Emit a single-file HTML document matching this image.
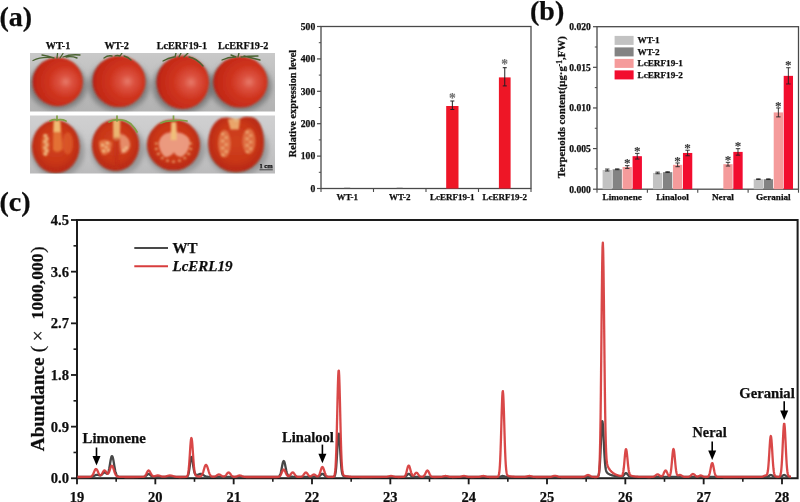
<!DOCTYPE html>
<html><head><meta charset="utf-8"><title>Figure</title>
<style>
html,body{margin:0;padding:0;background:#fff;width:800px;height:502px;overflow:hidden}
svg{display:block}
text{font-family:"Liberation Serif",serif;font-weight:bold;fill:#111;stroke:#111;stroke-width:0.25px}
</style></head><body>
<svg width="800" height="502" viewBox="0 0 800 502">
<defs><filter id="soft" x="0" y="0" width="800" height="502" filterUnits="userSpaceOnUse"><feGaussianBlur stdDeviation="0.35"/></filter></defs>
<rect width="800" height="502" fill="#fff"/>
<g filter="url(#soft)">
<text x="-0.6" y="26.3" font-size="28" text-anchor="start" >(a)</text>
<text x="530" y="20" font-size="28" text-anchor="start" >(b)</text>
<text x="-0.5" y="211.3" font-size="28" text-anchor="start" >(c)</text>
<defs>
<filter id="bl1" x="-20%" y="-20%" width="140%" height="140%"><feGaussianBlur stdDeviation="0.8"/></filter>
<filter id="bl4" x="-20%" y="-20%" width="140%" height="140%"><feGaussianBlur stdDeviation="1.3"/></filter>
<filter id="bl2" x="-30%" y="-30%" width="160%" height="160%"><feGaussianBlur stdDeviation="2.5"/></filter>
<filter id="bl3" x="-20%" y="-20%" width="140%" height="140%"><feGaussianBlur stdDeviation="0.45"/></filter>
<clipPath id="cpU"><rect x="30" y="53" width="245" height="58.5"/></clipPath>
<clipPath id="cpL"><rect x="30" y="115.5" width="245" height="58"/></clipPath>
<linearGradient id="bgU" x1="0" y1="0" x2="0" y2="1">
 <stop offset="0" stop-color="#c9c9c9"/><stop offset="0.5" stop-color="#bdbdbd"/><stop offset="1" stop-color="#b2b2b2"/></linearGradient>
<linearGradient id="bgL" x1="0" y1="0" x2="0" y2="1">
 <stop offset="0" stop-color="#d0d0d1"/><stop offset="0.6" stop-color="#c6c6c7"/><stop offset="1" stop-color="#bababb"/></linearGradient>
<radialGradient id="tom" cx="0.64" cy="0.5" r="0.72" fx="0.66" fy="0.5">
 <stop offset="0" stop-color="#e77a6a"/><stop offset="0.18" stop-color="#dc5240"/><stop offset="0.45" stop-color="#cf341f"/><stop offset="0.8" stop-color="#c22816"/><stop offset="1" stop-color="#9c1c0e"/></radialGradient>
<radialGradient id="cut" cx="0.5" cy="0.45" r="0.55">
 <stop offset="0" stop-color="#d0421e"/><stop offset="0.65" stop-color="#c93618"/><stop offset="0.9" stop-color="#b92a13"/><stop offset="1" stop-color="#98200e"/></radialGradient>
</defs><rect x="30" y="53" width="245" height="58.5" fill="url(#bgU)"/><rect x="30" y="115.5" width="245" height="58" fill="url(#bgL)"/><g clip-path="url(#cpU)"><g filter="url(#bl2)"><ellipse cx="57.7" cy="85.8" rx="29.2" ry="24.4" fill="#5a5a5a" opacity="0.6"/><ellipse cx="119" cy="85.4" rx="30.5" ry="25.7" fill="#5a5a5a" opacity="0.6"/><ellipse cx="182.7" cy="86.3" rx="30.3" ry="26.7" fill="#5a5a5a" opacity="0.6"/><ellipse cx="240.4" cy="86" rx="31.2" ry="25.6" fill="#5a5a5a" opacity="0.6"/></g><g filter="url(#bl1)"><ellipse cx="57.7" cy="81.8" rx="25.2" ry="24.4" fill="url(#tom)"/><ellipse cx="119" cy="81.4" rx="26.5" ry="25.7" fill="url(#tom)"/><ellipse cx="182.7" cy="82.3" rx="26.3" ry="26.7" fill="url(#tom)"/><ellipse cx="240.4" cy="82" rx="27.2" ry="25.6" fill="url(#tom)"/></g><g filter="url(#bl3)"><path d="M33,60.5 Q40,57 50,57.5 M42,55 Q48,56 54,58 M57,58 L57.5,53.5 M60,58 L63,53.5 M63,57 Q70,54 80,55 M66,57 Q72,56 77,58" stroke="#4a6230" stroke-width="1.35" fill="none" stroke-linecap="round"/><path d="M104,58 Q108,55 112,56 M115,56 Q117,55 120,56 L122,53 M124,56 Q128,57 131,60" stroke="#4a6230" stroke-width="1.35" fill="none" stroke-linecap="round"/><path d="M163,61 Q168,58 174,57 M175,57 L176,53 M179,57 L181,53 M184,57 L188,53 M189,57 Q196,58 203,66" stroke="#4a6230" stroke-width="1.35" fill="none" stroke-linecap="round"/><path d="M222,60 Q228,57 235,57 M231,55 L236,57 M238,57 L239,53 M241,57 Q248,56 258,56 M244,56 Q252,58 260,60" stroke="#4a6230" stroke-width="1.35" fill="none" stroke-linecap="round"/></g></g><g clip-path="url(#cpL)"><g filter="url(#bl2)"><ellipse cx="57.8" cy="150.6" rx="26.8" ry="26.6" fill="#7a7a7a" opacity="0.6"/><ellipse cx="117.6" cy="149.2" rx="26.6" ry="25.8" fill="#7a7a7a" opacity="0.6"/><ellipse cx="175.5" cy="149" rx="29.5" ry="25.6" fill="#7a7a7a" opacity="0.6"/><ellipse cx="238" cy="148.6" rx="30.5" ry="27.6" fill="#7a7a7a" opacity="0.6"/></g><g filter="url(#bl1)"><ellipse cx="55.8" cy="146.6" rx="23.8" ry="26.6" fill="url(#cut)"/><ellipse cx="55.8" cy="146.6" rx="22.0" ry="24.8" fill="none" stroke="#c0301a" stroke-width="1.8"/><ellipse cx="115.6" cy="145.2" rx="23.6" ry="25.8" fill="url(#cut)"/><ellipse cx="115.6" cy="145.2" rx="21.8" ry="24.0" fill="none" stroke="#c0301a" stroke-width="1.8"/><ellipse cx="173.5" cy="145" rx="26.5" ry="25.6" fill="url(#cut)"/><ellipse cx="173.5" cy="145" rx="24.7" ry="23.8" fill="none" stroke="#c0301a" stroke-width="1.8"/><path d="M236,122.5 C232,117 224,116 218,120 C210,126 207.5,138 208.6,148 C210,162 222,172.2 236,172.2 C250,172.2 262,162 263.7,148 C265,135 262,124 256,119 C250,115 240,116 236,122.5 Z" fill="url(#cut)"/><path d="M236,122.5 C232,117 224,116 218,120 C210,126 207.5,138 208.6,148 C210,162 222,172.2 236,172.2 C250,172.2 262,162 263.7,148 C265,135 262,124 256,119 C250,115 240,116 236,122.5 Z" fill="none" stroke="#c0301a" stroke-width="1.8" transform="translate(236,145) scale(0.93) translate(-236,-145)"/></g><g filter="url(#bl4)"><ellipse cx="67.70" cy="143.41" rx="5.24" ry="11.17" fill="#dc5a2c" opacity="0.8"/><ellipse cx="45.57" cy="145.27" rx="4.05" ry="11.17" fill="#e0703a" opacity="0.8"/><path d="M53.42,120.53 L60.56,120.53 L62.46,149.26 Q57.70,154.58 52.94,149.79 Z" fill="#e67a3a" opacity="0.85"/><path d="M53.90,120.53 L60.08,120.53 L60.56,131.97 L53.42,131.97 Z" fill="#f2c47c" opacity="0.9"/><ellipse cx="45.33" cy="135.43" rx="2.1" ry="1.1" fill="#f8d49a" opacity="0.95"/><ellipse cx="46.73" cy="138.53" rx="2.1" ry="1.1" fill="#f8d49a" opacity="0.95"/><ellipse cx="45.33" cy="141.63" rx="2.1" ry="1.1" fill="#f8d49a" opacity="0.95"/><ellipse cx="46.73" cy="144.73" rx="2.1" ry="1.1" fill="#f8d49a" opacity="0.95"/><ellipse cx="45.33" cy="147.83" rx="2.1" ry="1.1" fill="#f8d49a" opacity="0.95"/><ellipse cx="46.73" cy="150.93" rx="2.1" ry="1.1" fill="#f8d49a" opacity="0.95"/><ellipse cx="45.33" cy="154.03" rx="2.1" ry="1.1" fill="#f8d49a" opacity="0.95"/><path d="M113.00,119.92 L120.32,119.92 L119.85,138.75 Q116.78,142.62 113.24,138.75 Z" fill="#eec27a" opacity="0.9"/><path d="M113.71,137.46 L119.38,137.46 L118.43,165.84 L114.18,165.84 Z" fill="#c02818" opacity="0.5"/><path d="M120.32,133.59 Q129.76,136.17 130.23,145.20 Q128.58,154.23 121.50,153.46 Q119.38,145.20 120.32,133.59 Z" fill="#eca07c" opacity="0.8"/><path d="M99.08,141.33 Q106.16,137.46 111.82,142.62 Q111.35,155.52 102.62,155.00 Q98.61,149.07 99.08,141.33 Z" fill="#e8844f" opacity="0.8"/><ellipse cx="102.62" cy="145.20" rx="1.6" ry="1.1" fill="#f8d49a" opacity="0.9"/><ellipse cx="106.16" cy="147.26" rx="1.6" ry="1.1" fill="#f8d49a" opacity="0.9"/><ellipse cx="108.52" cy="150.36" rx="1.6" ry="1.1" fill="#f8d49a" opacity="0.9"/><ellipse cx="103.80" cy="150.88" rx="1.6" ry="1.1" fill="#f8d49a" opacity="0.9"/><ellipse cx="107.34" cy="143.14" rx="1.6" ry="1.1" fill="#f8d49a" opacity="0.9"/><ellipse cx="123.86" cy="150.36" rx="1.6" ry="1.1" fill="#f8d49a" opacity="0.9"/><ellipse cx="126.22" cy="147.78" rx="1.6" ry="1.1" fill="#f8d49a" opacity="0.9"/><path d="M171.38,122.47 L176.15,122.47 L176.68,132.20 Q188.07,133.48 189.93,141.16 Q189.40,152.68 181.45,157.03 Q176.15,156.52 174.03,152.17 Q170.85,156.52 165.55,157.29 Q158.93,152.68 158.66,142.44 Q160.25,133.48 170.85,132.20 Z" fill="#eea48a" opacity="0.9"/><path d="M171.38,121.96 L176.15,121.96 L176.68,139.88 L170.85,139.88 Z" fill="#f2c27a" opacity="0.9"/><ellipse cx="190.72" cy="143.61" rx="1.5" ry="1.1" fill="#f6cc90" opacity="0.75"/><ellipse cx="190.72" cy="148.95" rx="1.5" ry="1.1" fill="#f6cc90" opacity="0.75"/><ellipse cx="188.65" cy="153.96" rx="1.5" ry="1.1" fill="#f6cc90" opacity="0.75"/><ellipse cx="184.74" cy="158.05" rx="1.5" ry="1.1" fill="#f6cc90" opacity="0.75"/><ellipse cx="179.48" cy="160.71" rx="1.5" ry="1.1" fill="#f6cc90" opacity="0.75"/><ellipse cx="173.50" cy="161.64" rx="1.5" ry="1.1" fill="#f6cc90" opacity="0.75"/><ellipse cx="167.52" cy="160.71" rx="1.5" ry="1.1" fill="#f6cc90" opacity="0.75"/><ellipse cx="162.26" cy="158.05" rx="1.5" ry="1.1" fill="#f6cc90" opacity="0.75"/><ellipse cx="158.35" cy="153.96" rx="1.5" ry="1.1" fill="#f6cc90" opacity="0.75"/><ellipse cx="156.28" cy="148.95" rx="1.5" ry="1.1" fill="#f6cc90" opacity="0.75"/><ellipse cx="156.28" cy="143.61" rx="1.5" ry="1.1" fill="#f6cc90" opacity="0.75"/><path d="M227.75,119.21 Q234.62,117.55 240.12,119.21 L238.75,129.42 L230.50,129.42 Z" fill="#f0b878" opacity="0.85"/><ellipse cx="224.45" cy="143.77" rx="6.33" ry="13.80" fill="#e88a58" opacity="0.7"/><ellipse cx="248.93" cy="141.29" rx="6.60" ry="12.70" fill="#e88a58" opacity="0.65"/><ellipse cx="222.75" cy="134.11" rx="1.7" ry="1.1" fill="#f6cc90" opacity="0.75"/><ellipse cx="247.23" cy="132.18" rx="1.7" ry="1.1" fill="#f6cc90" opacity="0.7"/><ellipse cx="226.15" cy="137.61" rx="1.7" ry="1.1" fill="#f6cc90" opacity="0.75"/><ellipse cx="250.63" cy="135.48" rx="1.7" ry="1.1" fill="#f6cc90" opacity="0.7"/><ellipse cx="222.75" cy="141.11" rx="1.7" ry="1.1" fill="#f6cc90" opacity="0.75"/><ellipse cx="247.23" cy="138.78" rx="1.7" ry="1.1" fill="#f6cc90" opacity="0.7"/><ellipse cx="226.15" cy="144.61" rx="1.7" ry="1.1" fill="#f6cc90" opacity="0.75"/><ellipse cx="250.63" cy="142.08" rx="1.7" ry="1.1" fill="#f6cc90" opacity="0.7"/><ellipse cx="222.75" cy="148.11" rx="1.7" ry="1.1" fill="#f6cc90" opacity="0.75"/><ellipse cx="247.23" cy="145.38" rx="1.7" ry="1.1" fill="#f6cc90" opacity="0.7"/><ellipse cx="226.15" cy="151.61" rx="1.7" ry="1.1" fill="#f6cc90" opacity="0.75"/><ellipse cx="250.63" cy="148.68" rx="1.7" ry="1.1" fill="#f6cc90" opacity="0.7"/><ellipse cx="222.75" cy="155.11" rx="1.7" ry="1.1" fill="#f6cc90" opacity="0.75"/><ellipse cx="247.23" cy="151.98" rx="1.7" ry="1.1" fill="#f6cc90" opacity="0.7"/></g><g filter="url(#bl3)"><path d="M57,114 L57,120.5 M50,121 Q54,119 57,120 Q62,119 66,121" stroke="#7fa044" stroke-width="1.7" fill="none" stroke-linecap="round"/><path d="M117,114 L117,121 M109,122 Q113,119.5 117,120 Q125,119 131,124 Q135,128 137,132" stroke="#7fa044" stroke-width="1.7" fill="none" stroke-linecap="round"/><path d="M173.5,115 L173.5,121 M161,123 Q166,120.5 173,121 Q180,119.5 187,121" stroke="#7fa044" stroke-width="1.7" fill="none" stroke-linecap="round"/></g></g><text x="266" y="168.3" font-size="6.5" text-anchor="middle">1 cm</text><line x1="259.5" y1="169.8" x2="272.8" y2="169.8" stroke="#222" stroke-width="0.8"/>
<text x="58.1" y="49.4" font-size="10.2" text-anchor="middle" >WT-1</text>
<text x="116.7" y="49.4" font-size="10.2" text-anchor="middle" >WT-2</text>
<text x="181.9" y="49.4" font-size="10.2" text-anchor="middle" >LcERF19-1</text>
<text x="243.2" y="49.4" font-size="10.2" text-anchor="middle" >LcERF19-2</text>
<rect x="321" y="26.5" width="210" height="162.0" fill="none" stroke="#4a4a4a" stroke-width="1.3"/><line x1="317" y1="188.50" x2="321" y2="188.50" stroke="#4a4a4a" stroke-width="1.2"/><text x="315.2" y="191.80" font-size="9.6" text-anchor="end">0</text><line x1="318.8" y1="172.30" x2="321" y2="172.30" stroke="#4a4a4a" stroke-width="1"/><line x1="317" y1="156.10" x2="321" y2="156.10" stroke="#4a4a4a" stroke-width="1.2"/><text x="315.2" y="159.40" font-size="9.6" text-anchor="end">100</text><line x1="318.8" y1="139.90" x2="321" y2="139.90" stroke="#4a4a4a" stroke-width="1"/><line x1="317" y1="123.70" x2="321" y2="123.70" stroke="#4a4a4a" stroke-width="1.2"/><text x="315.2" y="127.00" font-size="9.6" text-anchor="end">200</text><line x1="318.8" y1="107.50" x2="321" y2="107.50" stroke="#4a4a4a" stroke-width="1"/><line x1="317" y1="91.30" x2="321" y2="91.30" stroke="#4a4a4a" stroke-width="1.2"/><text x="315.2" y="94.60" font-size="9.6" text-anchor="end">300</text><line x1="318.8" y1="75.10" x2="321" y2="75.10" stroke="#4a4a4a" stroke-width="1"/><line x1="317" y1="58.90" x2="321" y2="58.90" stroke="#4a4a4a" stroke-width="1.2"/><text x="315.2" y="62.20" font-size="9.6" text-anchor="end">400</text><line x1="318.8" y1="42.70" x2="321" y2="42.70" stroke="#4a4a4a" stroke-width="1"/><line x1="317" y1="26.50" x2="321" y2="26.50" stroke="#4a4a4a" stroke-width="1.2"/><text x="315.2" y="29.80" font-size="9.6" text-anchor="end">500</text><line x1="321.00" y1="188.5" x2="321.00" y2="192.0" stroke="#4a4a4a" stroke-width="1.1"/><line x1="373.50" y1="188.5" x2="373.50" y2="192.0" stroke="#4a4a4a" stroke-width="1.1"/><line x1="426.00" y1="188.5" x2="426.00" y2="192.0" stroke="#4a4a4a" stroke-width="1.1"/><line x1="478.50" y1="188.5" x2="478.50" y2="192.0" stroke="#4a4a4a" stroke-width="1.1"/><line x1="531.00" y1="188.5" x2="531.00" y2="192.0" stroke="#4a4a4a" stroke-width="1.1"/><text x="347.25" y="199.6" font-size="9" text-anchor="middle">WT-1</text><text x="399.75" y="199.6" font-size="9" text-anchor="middle">WT-2</text><text x="452.25" y="199.6" font-size="9" text-anchor="middle">LcERF19-1</text><text x="504.75" y="199.6" font-size="9" text-anchor="middle">LcERF19-2</text><rect x="446.2" y="106" width="12.300000000000011" height="82.5" fill="#ee1228"/><line x1="452.35" y1="101" x2="452.35" y2="109.5" stroke="#222" stroke-width="1"/><line x1="450.35" y1="101" x2="454.35" y2="101" stroke="#222" stroke-width="1"/><line x1="450.35" y1="109.5" x2="454.35" y2="109.5" stroke="#222" stroke-width="1"/><text x="452.35" y="102.77" font-size="13.52" font-weight="normal" text-anchor="middle" style="fill:#707070;stroke:#707070;stroke-width:0.1px">*</text><rect x="498.9" y="77.4" width="11.700000000000045" height="111.1" fill="#ee1228"/><line x1="504.75" y1="67.7" x2="504.75" y2="85.9" stroke="#222" stroke-width="1"/><line x1="502.75" y1="67.7" x2="506.75" y2="67.7" stroke="#222" stroke-width="1"/><line x1="502.75" y1="85.9" x2="506.75" y2="85.9" stroke="#222" stroke-width="1"/><text x="504.75" y="69.47" font-size="13.52" font-weight="normal" text-anchor="middle" style="fill:#707070;stroke:#707070;stroke-width:0.1px">*</text><line x1="344.2" y1="188.2" x2="350.2" y2="188.2" stroke="#555" stroke-width="0.8"/><line x1="396.7" y1="188.2" x2="402.7" y2="188.2" stroke="#555" stroke-width="0.8"/><text transform="translate(295.6,103.5) rotate(-90)" font-size="10.3" text-anchor="middle">Relative expression level</text>
<rect x="597" y="26.7" width="201.5" height="162.5" fill="none" stroke="#4a4a4a" stroke-width="1.3"/><line x1="593" y1="189.20" x2="597" y2="189.20" stroke="#4a4a4a" stroke-width="1.2"/><text x="590.8" y="192.50" font-size="9.6" text-anchor="end">0.000</text><line x1="594.8" y1="168.89" x2="597" y2="168.89" stroke="#4a4a4a" stroke-width="1"/><line x1="593" y1="148.57" x2="597" y2="148.57" stroke="#4a4a4a" stroke-width="1.2"/><text x="590.8" y="151.88" font-size="9.6" text-anchor="end">0.005</text><line x1="594.8" y1="128.26" x2="597" y2="128.26" stroke="#4a4a4a" stroke-width="1"/><line x1="593" y1="107.95" x2="597" y2="107.95" stroke="#4a4a4a" stroke-width="1.2"/><text x="590.8" y="111.25" font-size="9.6" text-anchor="end">0.010</text><line x1="594.8" y1="87.64" x2="597" y2="87.64" stroke="#4a4a4a" stroke-width="1"/><line x1="593" y1="67.32" x2="597" y2="67.32" stroke="#4a4a4a" stroke-width="1.2"/><text x="590.8" y="70.62" font-size="9.6" text-anchor="end">0.015</text><line x1="594.8" y1="47.01" x2="597" y2="47.01" stroke="#4a4a4a" stroke-width="1"/><line x1="593" y1="26.70" x2="597" y2="26.70" stroke="#4a4a4a" stroke-width="1.2"/><text x="590.8" y="30.00" font-size="9.6" text-anchor="end">0.020</text><line x1="597.00" y1="189.2" x2="597.00" y2="192.7" stroke="#4a4a4a" stroke-width="1.1"/><line x1="647.38" y1="189.2" x2="647.38" y2="192.7" stroke="#4a4a4a" stroke-width="1.1"/><line x1="697.75" y1="189.2" x2="697.75" y2="192.7" stroke="#4a4a4a" stroke-width="1.1"/><line x1="748.12" y1="189.2" x2="748.12" y2="192.7" stroke="#4a4a4a" stroke-width="1.1"/><line x1="798.50" y1="189.2" x2="798.50" y2="192.7" stroke="#4a4a4a" stroke-width="1.1"/><text x="622.19" y="200" font-size="9.2" text-anchor="middle">Limonene</text><text x="672.56" y="200" font-size="9.2" text-anchor="middle">Linalool</text><text x="722.94" y="200" font-size="9.2" text-anchor="middle">Neral</text><text x="773.31" y="200" font-size="9.2" text-anchor="middle">Geranial</text><rect x="602.59" y="170.02" width="9.3" height="19.18" fill="#c2c2c2"/><path d="M605.04,169.05h4.4M607.24,169.05V171.00M605.04,171.00h4.4" stroke="#222" stroke-width="0.9" fill="none"/><rect x="612.59" y="169.29" width="9.3" height="19.91" fill="#838383"/><path d="M615.04,168.89h4.4M617.24,168.89V169.70M615.04,169.70h4.4" stroke="#222" stroke-width="0.9" fill="none"/><rect x="622.59" y="167.02" width="9.3" height="22.18" fill="#f59b9b"/><path d="M625.04,165.64h4.4M627.24,165.64V168.40M625.04,168.40h4.4" stroke="#222" stroke-width="0.9" fill="none"/><text x="627.24" y="167.36" font-size="13.00" font-weight="bold" text-anchor="middle" style="fill:#3a3a3a;stroke:#3a3a3a;stroke-width:0.1px">*</text><rect x="632.59" y="156.21" width="9.3" height="32.99" fill="#f2072f"/><path d="M635.04,153.37h4.4M637.24,153.37V159.06M635.04,159.06h4.4" stroke="#222" stroke-width="0.9" fill="none"/><text x="637.24" y="155.09" font-size="13.00" font-weight="bold" text-anchor="middle" style="fill:#3a3a3a;stroke:#3a3a3a;stroke-width:0.1px">*</text><rect x="652.96" y="172.95" width="9.3" height="16.25" fill="#c2c2c2"/><path d="M655.41,172.14h4.4M657.61,172.14V173.76M655.41,173.76h4.4" stroke="#222" stroke-width="0.9" fill="none"/><rect x="662.96" y="172.14" width="9.3" height="17.06" fill="#838383"/><path d="M665.41,171.73h4.4M667.61,171.73V172.54M665.41,172.54h4.4" stroke="#222" stroke-width="0.9" fill="none"/><rect x="672.96" y="164.82" width="9.3" height="24.38" fill="#f59b9b"/><path d="M675.41,162.96h4.4M677.61,162.96V166.69M675.41,166.69h4.4" stroke="#222" stroke-width="0.9" fill="none"/><text x="677.61" y="164.68" font-size="13.00" font-weight="bold" text-anchor="middle" style="fill:#3a3a3a;stroke:#3a3a3a;stroke-width:0.1px">*</text><rect x="682.96" y="152.96" width="9.3" height="36.24" fill="#f2072f"/><path d="M685.41,150.20h4.4M687.61,150.20V155.72M685.41,155.72h4.4" stroke="#222" stroke-width="0.9" fill="none"/><text x="687.61" y="151.92" font-size="13.00" font-weight="bold" text-anchor="middle" style="fill:#3a3a3a;stroke:#3a3a3a;stroke-width:0.1px">*</text><rect x="723.34" y="164.17" width="9.3" height="25.03" fill="#f59b9b"/><path d="M725.79,162.31h4.4M727.99,162.31V166.04M725.79,166.04h4.4" stroke="#222" stroke-width="0.9" fill="none"/><text x="727.99" y="164.03" font-size="13.00" font-weight="bold" text-anchor="middle" style="fill:#3a3a3a;stroke:#3a3a3a;stroke-width:0.1px">*</text><rect x="733.34" y="151.91" width="9.3" height="37.29" fill="#f2072f"/><path d="M735.79,148.66h4.4M737.99,148.66V155.16M735.79,155.16h4.4" stroke="#222" stroke-width="0.9" fill="none"/><text x="737.99" y="150.38" font-size="13.00" font-weight="bold" text-anchor="middle" style="fill:#3a3a3a;stroke:#3a3a3a;stroke-width:0.1px">*</text><rect x="753.71" y="179.21" width="9.3" height="9.99" fill="#c2c2c2"/><path d="M756.16,178.88h4.4M758.36,178.88V179.53M756.16,179.53h4.4" stroke="#222" stroke-width="0.9" fill="none"/><rect x="763.71" y="179.21" width="9.3" height="9.99" fill="#838383"/><path d="M766.16,178.88h4.4M768.36,178.88V179.53M766.16,179.53h4.4" stroke="#222" stroke-width="0.9" fill="none"/><rect x="773.71" y="112.42" width="9.3" height="76.78" fill="#f59b9b"/><path d="M776.16,107.95h4.4M778.36,107.95V116.89M776.16,116.89h4.4" stroke="#222" stroke-width="0.9" fill="none"/><text x="778.36" y="109.67" font-size="13.00" font-weight="bold" text-anchor="middle" style="fill:#3a3a3a;stroke:#3a3a3a;stroke-width:0.1px">*</text><rect x="783.71" y="75.86" width="9.3" height="113.34" fill="#f2072f"/><path d="M786.16,67.73h4.4M788.36,67.73V83.98M786.16,83.98h4.4" stroke="#222" stroke-width="0.9" fill="none"/><text x="788.36" y="69.45" font-size="13.00" font-weight="bold" text-anchor="middle" style="fill:#3a3a3a;stroke:#3a3a3a;stroke-width:0.1px">*</text><rect x="614.6" y="35.90" width="19" height="9" fill="#c2c2c2"/><text x="637.5" y="43.30" font-size="9.2">WT-1</text><rect x="614.6" y="47.40" width="19" height="9" fill="#838383"/><text x="637.5" y="54.80" font-size="9.2">WT-2</text><rect x="614.6" y="58.90" width="19" height="9" fill="#f59b9b"/><text x="637.5" y="66.30" font-size="9.2">LcERF19-1</text><rect x="614.6" y="70.40" width="19" height="9" fill="#f2072f"/><text x="637.5" y="77.80" font-size="9.2">LcERF19-2</text><text transform="translate(565.3,107.3) rotate(-90)" font-size="10.8" text-anchor="middle">Terpenoids content(μg·g<tspan dy="-3.8" font-size="7.5">-1</tspan><tspan dy="3.8">,FW)</tspan></text>
<path d="M77,220H797.6V478.3H77Z" fill="none" stroke="#1a1a1a" stroke-width="2"/><line x1="71" y1="478.30" x2="77" y2="478.30" stroke="#1a1a1a" stroke-width="1.8"/><text x="69" y="483.20" font-size="14.6" text-anchor="end">0.0</text><line x1="73.5" y1="452.47" x2="77" y2="452.47" stroke="#1a1a1a" stroke-width="1.6"/><line x1="71" y1="426.64" x2="77" y2="426.64" stroke="#1a1a1a" stroke-width="1.8"/><text x="69" y="431.54" font-size="14.6" text-anchor="end">0.9</text><line x1="73.5" y1="400.81" x2="77" y2="400.81" stroke="#1a1a1a" stroke-width="1.6"/><line x1="71" y1="374.98" x2="77" y2="374.98" stroke="#1a1a1a" stroke-width="1.8"/><text x="69" y="379.88" font-size="14.6" text-anchor="end">1.8</text><line x1="73.5" y1="349.15" x2="77" y2="349.15" stroke="#1a1a1a" stroke-width="1.6"/><line x1="71" y1="323.32" x2="77" y2="323.32" stroke="#1a1a1a" stroke-width="1.8"/><text x="69" y="328.22" font-size="14.6" text-anchor="end">2.7</text><line x1="73.5" y1="297.49" x2="77" y2="297.49" stroke="#1a1a1a" stroke-width="1.6"/><line x1="71" y1="271.66" x2="77" y2="271.66" stroke="#1a1a1a" stroke-width="1.8"/><text x="69" y="276.56" font-size="14.6" text-anchor="end">3.6</text><line x1="73.5" y1="245.83" x2="77" y2="245.83" stroke="#1a1a1a" stroke-width="1.6"/><line x1="71" y1="220.00" x2="77" y2="220.00" stroke="#1a1a1a" stroke-width="1.8"/><text x="69" y="224.90" font-size="14.6" text-anchor="end">4.5</text><line x1="77.00" y1="478.3" x2="77.00" y2="484.3" stroke="#1a1a1a" stroke-width="1.8"/><text x="77.00" y="501.6" font-size="14.5" text-anchor="middle">19</text><line x1="116.17" y1="478.3" x2="116.17" y2="481.8" stroke="#1a1a1a" stroke-width="1.6"/><line x1="155.33" y1="478.3" x2="155.33" y2="484.3" stroke="#1a1a1a" stroke-width="1.8"/><text x="155.33" y="501.6" font-size="14.5" text-anchor="middle">20</text><line x1="194.50" y1="478.3" x2="194.50" y2="481.8" stroke="#1a1a1a" stroke-width="1.6"/><line x1="233.67" y1="478.3" x2="233.67" y2="484.3" stroke="#1a1a1a" stroke-width="1.8"/><text x="233.67" y="501.6" font-size="14.5" text-anchor="middle">21</text><line x1="272.83" y1="478.3" x2="272.83" y2="481.8" stroke="#1a1a1a" stroke-width="1.6"/><line x1="312.00" y1="478.3" x2="312.00" y2="484.3" stroke="#1a1a1a" stroke-width="1.8"/><text x="312.00" y="501.6" font-size="14.5" text-anchor="middle">22</text><line x1="351.17" y1="478.3" x2="351.17" y2="481.8" stroke="#1a1a1a" stroke-width="1.6"/><line x1="390.33" y1="478.3" x2="390.33" y2="484.3" stroke="#1a1a1a" stroke-width="1.8"/><text x="390.33" y="501.6" font-size="14.5" text-anchor="middle">23</text><line x1="429.50" y1="478.3" x2="429.50" y2="481.8" stroke="#1a1a1a" stroke-width="1.6"/><line x1="468.67" y1="478.3" x2="468.67" y2="484.3" stroke="#1a1a1a" stroke-width="1.8"/><text x="468.67" y="501.6" font-size="14.5" text-anchor="middle">24</text><line x1="507.83" y1="478.3" x2="507.83" y2="481.8" stroke="#1a1a1a" stroke-width="1.6"/><line x1="547.00" y1="478.3" x2="547.00" y2="484.3" stroke="#1a1a1a" stroke-width="1.8"/><text x="547.00" y="501.6" font-size="14.5" text-anchor="middle">25</text><line x1="586.17" y1="478.3" x2="586.17" y2="481.8" stroke="#1a1a1a" stroke-width="1.6"/><line x1="625.33" y1="478.3" x2="625.33" y2="484.3" stroke="#1a1a1a" stroke-width="1.8"/><text x="625.33" y="501.6" font-size="14.5" text-anchor="middle">26</text><line x1="664.50" y1="478.3" x2="664.50" y2="481.8" stroke="#1a1a1a" stroke-width="1.6"/><line x1="703.67" y1="478.3" x2="703.67" y2="484.3" stroke="#1a1a1a" stroke-width="1.8"/><text x="703.67" y="501.6" font-size="14.5" text-anchor="middle">27</text><line x1="742.83" y1="478.3" x2="742.83" y2="481.8" stroke="#1a1a1a" stroke-width="1.6"/><line x1="782.00" y1="478.3" x2="782.00" y2="484.3" stroke="#1a1a1a" stroke-width="1.8"/><text x="782.00" y="501.6" font-size="14.5" text-anchor="middle">28</text><path d="M77.50,477.00 L89.38,476.98 L90.04,476.95 L90.37,476.93 L90.70,476.91 L91.03,476.87 L91.36,476.83 L91.69,476.77 L92.02,476.70 L92.35,476.61 L92.68,476.51 L93.01,476.38 L93.34,476.25 L93.67,476.09 L94.00,475.93 L94.33,475.76 L94.66,475.58 L94.99,475.41 L95.32,475.24 L95.65,475.10 L95.98,474.97 L96.31,474.88 L96.64,474.82 L96.97,474.79 L97.30,474.79 L97.63,474.83 L97.96,474.90 L98.29,474.99 L98.62,475.09 L98.95,475.19 L99.28,475.28 L99.61,475.34 L99.94,475.37 L100.27,475.36 L100.60,475.28 L100.93,475.15 L101.26,474.96 L101.59,474.72 L101.92,474.42 L102.25,474.09 L102.58,473.74 L102.91,473.40 L103.24,473.08 L103.57,472.81 L103.90,472.61 L104.23,472.49 L104.56,472.46 L104.89,472.52 L105.22,472.66 L105.55,472.86 L105.88,473.11 L106.21,473.35 L106.54,473.57 L106.87,473.70 L107.20,473.70 L107.53,473.53 L107.86,473.13 L108.19,472.48 L108.52,471.53 L108.85,470.29 L109.18,468.76 L109.51,466.99 L109.84,465.04 L110.17,463.02 L110.50,461.04 L110.83,459.23 L111.16,457.73 L111.49,456.64 L111.82,456.07 L112.15,456.04 L112.48,456.53 L112.81,457.51 L113.14,458.91 L113.47,460.63 L113.80,462.57 L114.13,464.61 L114.46,466.62 L114.79,468.52 L115.12,470.24 L115.45,471.73 L115.78,472.98 L116.11,473.99 L116.44,474.78 L116.77,475.38 L117.10,475.83 L117.43,476.15 L117.76,476.38 L118.09,476.53 L118.42,476.64 L118.75,476.72 L119.08,476.77 L119.41,476.81 L119.74,476.84 L120.07,476.86 L120.73,476.89 L121.39,476.91 L122.38,476.94 L123.70,476.96 L126.01,476.98 L142.84,476.97 L143.17,476.95 L143.50,476.92 L143.83,476.87 L144.16,476.80 L144.49,476.71 L144.82,476.59 L145.15,476.42 L145.48,476.22 L145.81,475.98 L146.14,475.70 L146.47,475.40 L146.80,475.08 L147.13,474.78 L147.46,474.49 L147.79,474.26 L148.12,474.09 L148.45,474.01 L148.78,474.01 L149.11,474.11 L149.44,474.28 L149.77,474.52 L150.10,474.80 L150.43,475.11 L150.76,475.43 L151.09,475.73 L151.42,476.00 L151.75,476.24 L152.08,476.44 L152.41,476.60 L152.74,476.72 L153.07,476.81 L153.40,476.88 L153.73,476.92 L154.06,476.95 L154.72,476.98 L185.74,476.98 L186.07,476.96 L186.40,476.92 L186.73,476.84 L187.06,476.70 L187.39,476.44 L187.72,476.01 L188.05,475.35 L188.38,474.36 L188.71,472.99 L189.04,471.20 L189.37,469.00 L189.70,466.48 L190.03,463.82 L190.36,461.27 L190.69,459.12 L191.02,457.63 L191.35,457.01 L191.68,457.27 L192.01,458.25 L192.34,459.87 L192.67,461.94 L193.00,464.24 L193.33,466.54 L193.66,468.66 L193.99,470.47 L194.32,471.93 L194.65,473.03 L194.98,473.82 L195.31,474.35 L195.64,474.68 L195.97,474.88 L196.30,474.98 L196.63,475.01 L196.96,474.99 L197.29,474.93 L197.62,474.84 L197.95,474.73 L198.28,474.61 L198.61,474.47 L198.94,474.33 L199.27,474.20 L199.60,474.09 L199.93,473.99 L200.26,473.93 L200.59,473.90 L200.92,473.91 L201.25,473.95 L201.58,474.04 L201.91,474.17 L202.24,474.33 L202.57,474.52 L202.90,474.73 L203.23,474.95 L203.56,475.17 L203.89,475.39 L204.22,475.60 L204.55,475.80 L204.88,475.98 L205.21,476.14 L205.54,476.28 L205.87,476.40 L206.20,476.51 L206.53,476.59 L206.86,476.66 L207.19,476.71 L207.52,476.76 L207.85,476.79 L208.18,476.82 L208.51,476.84 L209.17,476.87 L209.83,476.89 L210.82,476.92 L212.14,476.94 L214.12,476.96 L217.42,476.98 L229.63,477.00 L277.48,476.96 L277.81,476.92 L278.14,476.86 L278.47,476.77 L278.80,476.61 L279.13,476.36 L279.46,476.00 L279.79,475.49 L280.12,474.79 L280.45,473.87 L280.78,472.71 L281.11,471.32 L281.44,469.73 L281.77,468.00 L282.10,466.22 L282.43,464.53 L282.76,463.04 L283.09,461.89 L283.42,461.19 L283.75,461.01 L284.08,461.31 L284.41,462.05 L284.74,463.18 L285.07,464.61 L285.40,466.22 L285.73,467.89 L286.06,469.52 L286.39,471.01 L286.72,472.32 L287.05,473.41 L287.38,474.29 L287.71,474.97 L288.04,475.47 L288.37,475.84 L288.70,476.10 L289.03,476.28 L289.36,476.40 L289.69,476.49 L290.02,476.55 L290.35,476.60 L290.68,476.64 L291.01,476.67 L291.34,476.70 L291.67,476.73 L292.00,476.75 L292.33,476.77 L292.99,476.80 L293.65,476.83 L294.31,476.86 L294.97,476.88 L295.96,476.91 L296.95,476.93 L298.27,476.95 L300.25,476.97 L304.21,476.99 L317.08,476.96 L317.41,476.93 L317.74,476.89 L318.07,476.82 L318.40,476.73 L318.73,476.60 L319.06,476.43 L319.39,476.21 L319.72,475.94 L320.05,475.64 L320.38,475.29 L320.71,474.94 L321.04,474.59 L321.37,474.28 L321.70,474.03 L322.03,473.87 L322.36,473.80 L322.69,473.84 L323.02,473.98 L323.35,474.22 L323.68,474.51 L324.01,474.85 L324.34,475.21 L324.67,475.56 L325.00,475.87 L325.33,476.15 L325.66,476.38 L325.99,476.56 L326.32,476.70 L326.65,476.80 L326.98,476.87 L327.31,476.92 L327.64,476.95 L328.30,476.99 L332.92,476.98 L333.25,476.96 L333.58,476.91 L333.91,476.81 L334.24,476.62 L334.57,476.25 L334.90,475.60 L335.23,474.52 L335.56,472.83 L335.89,470.35 L336.22,466.92 L336.55,462.51 L336.88,457.21 L337.21,451.34 L337.54,445.41 L337.87,440.07 L338.20,436.01 L338.53,433.80 L338.86,433.74 L339.19,435.74 L339.52,439.51 L339.85,444.54 L340.18,450.21 L340.51,455.89 L340.84,461.09 L341.17,465.48 L341.50,468.93 L341.83,471.48 L342.16,473.26 L342.49,474.43 L342.82,475.17 L343.15,475.63 L343.48,475.90 L343.81,476.08 L344.14,476.19 L344.47,476.28 L344.80,476.34 L345.13,476.40 L345.46,476.45 L345.79,476.49 L346.12,476.53 L346.45,476.57 L346.78,476.60 L347.11,476.63 L347.44,476.66 L347.77,476.69 L348.10,476.71 L348.43,476.74 L348.76,476.76 L349.42,476.79 L350.08,476.83 L350.74,476.85 L351.40,476.87 L352.39,476.90 L353.38,476.92 L354.70,476.95 L356.68,476.97 L360.64,476.99 L403.54,476.97 L403.87,476.94 L404.20,476.90 L404.53,476.84 L404.86,476.75 L405.19,476.62 L405.52,476.44 L405.85,476.22 L406.18,475.93 L406.51,475.60 L406.84,475.24 L407.17,474.87 L407.50,474.51 L407.83,474.19 L408.16,473.96 L408.49,473.82 L408.82,473.81 L409.15,473.91 L409.48,474.12 L409.81,474.41 L410.14,474.76 L410.47,475.14 L410.80,475.51 L411.13,475.85 L411.46,476.14 L411.79,476.39 L412.12,476.58 L412.45,476.72 L412.78,476.82 L413.11,476.89 L413.44,476.93 L413.77,476.96 L414.43,476.99 L498.58,476.95 L498.91,476.93 L499.24,476.89 L499.57,476.84 L499.90,476.77 L500.23,476.68 L500.56,476.58 L500.89,476.47 L501.22,476.35 L501.55,476.24 L501.88,476.14 L502.21,476.06 L502.54,476.01 L502.87,476.00 L503.20,476.03 L503.53,476.09 L503.86,476.18 L504.19,476.28 L504.52,476.40 L504.85,476.52 L505.18,476.62 L505.51,476.72 L505.84,476.80 L506.17,476.86 L506.50,476.91 L506.83,476.94 L507.16,476.96 L507.82,476.99 L596.59,476.99 L596.92,476.97 L597.25,476.92 L597.58,476.81 L597.91,476.59 L598.24,476.16 L598.57,475.39 L598.90,474.07 L599.23,471.94 L599.56,468.75 L599.89,464.27 L600.22,458.43 L600.55,451.36 L600.88,443.52 L601.21,435.64 L601.54,428.67 L601.87,423.58 L602.20,421.14 L602.53,421.60 L602.86,424.49 L603.19,429.44 L603.52,435.79 L603.85,442.77 L604.18,449.61 L604.51,455.73 L604.84,460.80 L605.17,464.71 L605.50,467.56 L605.83,469.53 L606.16,470.85 L606.49,471.72 L606.82,472.31 L607.15,472.72 L607.48,473.04 L607.81,473.30 L608.14,473.53 L608.47,473.74 L608.80,473.93 L609.13,474.11 L609.46,474.28 L609.79,474.44 L610.12,474.59 L610.45,474.73 L610.78,474.86 L611.11,474.98 L611.44,475.10 L611.77,475.21 L612.10,475.32 L612.43,475.41 L612.76,475.51 L613.09,475.59 L613.42,475.68 L613.75,475.75 L614.08,475.83 L614.41,475.89 L614.74,475.96 L615.07,476.02 L615.40,476.08 L615.73,476.13 L616.06,476.18 L616.39,476.23 L616.72,476.27 L617.05,476.32 L617.38,476.36 L617.71,476.39 L618.04,476.43 L618.37,476.46 L618.70,476.49 L619.03,476.52 L619.36,476.55 L619.69,476.57 L620.02,476.59 L620.68,476.62 L621.34,476.60 L621.67,476.56 L622.00,476.48 L622.33,476.37 L622.66,476.20 L622.99,475.98 L623.32,475.68 L623.65,475.33 L623.98,474.93 L624.31,474.50 L624.64,474.07 L624.97,473.68 L625.30,473.36 L625.63,473.15 L625.96,473.07 L626.29,473.13 L626.62,473.32 L626.95,473.64 L627.28,474.03 L627.61,474.47 L627.94,474.92 L628.27,475.35 L628.60,475.74 L628.93,476.06 L629.26,476.32 L629.59,476.52 L629.92,476.67 L630.25,476.77 L630.58,476.84 L630.91,476.89 L631.24,476.92 L631.90,476.94 L633.55,476.97 L638.50,476.99 L765.88,476.97 L766.21,476.95 L766.54,476.91 L766.87,476.86 L767.20,476.79 L767.53,476.69 L767.86,476.55 L768.19,476.38 L768.52,476.19 L768.85,475.96 L769.18,475.73 L769.51,475.50 L769.84,475.29 L770.17,475.13 L770.50,475.03 L770.83,475.00 L771.16,475.04 L771.49,475.16 L771.82,475.33 L772.15,475.54 L772.48,475.77 L772.81,476.01 L773.14,476.22 L773.47,476.42 L773.80,476.58 L774.13,476.71 L774.46,476.80 L774.79,476.87 L775.12,476.92 L775.45,476.95 L775.78,476.97 L776.77,477.00 L779.41,476.96 L779.74,476.94 L780.07,476.90 L780.40,476.84 L780.73,476.75 L781.06,476.64 L781.39,476.49 L781.72,476.31 L782.05,476.10 L782.38,475.87 L782.71,475.64 L783.04,475.42 L783.37,475.22 L783.70,475.08 L784.03,475.01 L784.36,475.01 L784.69,475.08 L785.02,475.22 L785.35,475.41 L785.68,475.63 L786.01,475.87 L786.34,476.09 L786.67,476.30 L787.00,476.48 L787.33,476.63 L787.66,476.75 L787.99,476.83 L788.32,476.89 L788.65,476.93 L788.98,476.96 L789.64,476.99 L790.96,477.00" fill="none" stroke="#474747" stroke-width="2.3" stroke-linejoin="round"/><path d="M77.50,477.00 L89.38,476.97 L89.71,476.94 L90.04,476.91 L90.37,476.85 L90.70,476.76 L91.03,476.64 L91.36,476.46 L91.69,476.22 L92.02,475.90 L92.35,475.49 L92.68,474.98 L93.01,474.38 L93.34,473.70 L93.67,472.94 L94.00,472.15 L94.33,471.35 L94.66,470.61 L94.99,469.96 L95.32,469.45 L95.65,469.12 L95.98,469.00 L96.31,469.08 L96.64,469.35 L96.97,469.79 L97.30,470.37 L97.63,471.05 L97.96,471.79 L98.29,472.54 L98.62,473.26 L98.95,473.90 L99.28,474.43 L99.61,474.85 L99.94,475.13 L100.27,475.26 L100.60,475.25 L100.93,475.11 L101.26,474.83 L101.59,474.43 L101.92,473.93 L102.25,473.36 L102.58,472.75 L102.91,472.14 L103.24,471.57 L103.57,471.08 L103.90,470.71 L104.23,470.48 L104.56,470.43 L104.89,470.54 L105.22,470.81 L105.55,471.21 L105.88,471.70 L106.21,472.23 L106.54,472.75 L106.87,473.21 L107.20,473.56 L107.53,473.76 L107.86,473.77 L108.19,473.58 L108.52,473.18 L108.85,472.57 L109.18,471.78 L109.51,470.84 L109.84,469.82 L110.17,468.77 L110.50,467.77 L110.83,466.90 L111.16,466.23 L111.49,465.81 L111.82,465.69 L112.15,465.83 L112.48,466.22 L112.81,466.85 L113.14,467.67 L113.47,468.64 L113.80,469.68 L114.13,470.76 L114.46,471.80 L114.79,472.76 L115.12,473.62 L115.45,474.35 L115.78,474.96 L116.11,475.45 L116.44,475.82 L116.77,476.11 L117.10,476.33 L117.43,476.48 L117.76,476.59 L118.09,476.67 L118.42,476.73 L118.75,476.78 L119.08,476.81 L119.41,476.83 L119.74,476.85 L120.40,476.88 L121.06,476.91 L122.05,476.93 L123.37,476.96 L125.35,476.98 L132.94,477.00 L142.51,476.96 L142.84,476.93 L143.17,476.89 L143.50,476.82 L143.83,476.72 L144.16,476.58 L144.49,476.37 L144.82,476.10 L145.15,475.75 L145.48,475.31 L145.81,474.79 L146.14,474.19 L146.47,473.53 L146.80,472.85 L147.13,472.18 L147.46,471.57 L147.79,471.06 L148.12,470.70 L148.45,470.52 L148.78,470.52 L149.11,470.69 L149.44,471.02 L149.77,471.48 L150.10,472.04 L150.43,472.67 L150.76,473.31 L151.09,473.93 L151.42,474.51 L151.75,475.01 L152.08,475.42 L152.41,475.75 L152.74,475.99 L153.07,476.16 L153.40,476.26 L153.73,476.30 L154.06,476.30 L154.39,476.26 L154.72,476.20 L155.05,476.12 L155.38,476.02 L155.71,475.91 L156.04,475.81 L156.37,475.71 L156.70,475.62 L157.03,475.55 L157.36,475.49 L157.69,475.46 L158.35,475.48 L158.68,475.52 L159.01,475.58 L159.34,475.67 L159.67,475.77 L160.00,475.88 L160.33,476.00 L160.66,476.12 L160.99,476.23 L161.32,476.34 L161.65,476.44 L161.98,476.52 L162.31,476.59 L162.64,476.65 L162.97,476.69 L163.30,476.71 L163.96,476.71 L164.29,476.69 L164.62,476.65 L164.95,476.60 L165.28,476.54 L165.61,476.47 L165.94,476.39 L166.27,476.30 L166.60,476.20 L166.93,476.11 L167.26,476.01 L167.59,475.91 L167.92,475.82 L168.25,475.73 L168.58,475.66 L168.91,475.59 L169.24,475.55 L169.57,475.51 L170.23,475.50 L170.56,475.53 L170.89,475.56 L171.22,475.62 L171.55,475.69 L171.88,475.77 L172.21,475.86 L172.54,475.95 L172.87,476.05 L173.20,476.15 L173.53,476.25 L173.86,476.34 L174.19,476.43 L174.52,476.52 L174.85,476.59 L175.18,476.66 L175.51,476.72 L175.84,476.77 L176.17,476.82 L176.50,476.86 L176.83,476.89 L177.16,476.91 L177.49,476.93 L178.15,476.96 L179.14,476.99 L185.74,476.97 L186.07,476.93 L186.40,476.85 L186.73,476.69 L187.06,476.41 L187.39,475.91 L187.72,475.08 L188.05,473.78 L188.38,471.86 L188.71,469.19 L189.04,465.69 L189.37,461.39 L189.70,456.48 L190.03,451.30 L190.36,446.33 L190.69,442.13 L191.02,439.23 L191.35,438.02 L191.68,438.62 L192.01,440.86 L192.34,444.46 L192.67,448.99 L193.00,453.93 L193.33,458.80 L193.66,463.20 L193.99,466.92 L194.32,469.84 L194.65,472.02 L194.98,473.56 L195.31,474.59 L195.64,475.25 L195.97,475.67 L196.30,475.93 L196.63,476.10 L196.96,476.21 L197.29,476.29 L197.62,476.36 L197.95,476.41 L198.28,476.45 L198.61,476.48 L198.94,476.50 L199.60,476.50 L199.93,476.46 L200.26,476.39 L200.59,476.26 L200.92,476.08 L201.25,475.81 L201.58,475.45 L201.91,474.98 L202.24,474.38 L202.57,473.65 L202.90,472.79 L203.23,471.82 L203.56,470.75 L203.89,469.62 L204.22,468.50 L204.55,467.43 L204.88,466.49 L205.21,465.72 L205.54,465.20 L205.87,464.94 L206.20,464.97 L206.53,465.26 L206.86,465.80 L207.19,466.55 L207.52,467.47 L207.85,468.51 L208.18,469.61 L208.51,470.71 L208.84,471.77 L209.17,472.74 L209.50,473.60 L209.83,474.34 L210.16,474.95 L210.49,475.44 L210.82,475.83 L211.15,476.12 L211.48,476.34 L211.81,476.49 L212.14,476.60 L212.47,476.68 L212.80,476.72 L213.46,476.74 L213.79,476.71 L214.12,476.67 L214.45,476.60 L214.78,476.51 L215.11,476.40 L215.44,476.25 L215.77,476.08 L216.10,475.89 L216.43,475.68 L216.76,475.46 L217.09,475.24 L217.42,475.03 L217.75,474.84 L218.08,474.68 L218.41,474.56 L218.74,474.49 L219.07,474.48 L219.40,474.52 L219.73,474.62 L220.06,474.76 L220.39,474.94 L220.72,475.14 L221.05,475.37 L221.38,475.59 L221.71,475.81 L222.04,476.01 L222.37,476.18 L222.70,476.33 L223.03,476.43 L223.36,476.50 L223.69,476.52 L224.02,476.48 L224.35,476.40 L224.68,476.25 L225.01,476.04 L225.34,475.77 L225.67,475.43 L226.00,475.05 L226.33,474.63 L226.66,474.18 L226.99,473.74 L227.32,473.33 L227.65,472.98 L227.98,472.71 L228.31,472.55 L228.64,472.50 L228.97,472.58 L229.30,472.77 L229.63,473.06 L229.96,473.43 L230.29,473.85 L230.62,474.30 L230.95,474.74 L231.28,475.16 L231.61,475.55 L231.94,475.88 L232.27,476.16 L232.60,476.38 L232.93,476.55 L233.26,476.68 L233.59,476.77 L233.92,476.82 L234.25,476.85 L234.91,476.83 L235.24,476.79 L235.57,476.73 L235.90,476.66 L236.23,476.56 L236.56,476.46 L236.89,476.34 L237.22,476.20 L237.55,476.07 L237.88,475.93 L238.21,475.81 L238.54,475.69 L238.87,475.60 L239.20,475.54 L239.53,475.50 L239.86,475.50 L240.19,475.54 L240.52,475.60 L240.85,475.69 L241.18,475.80 L241.51,475.93 L241.84,476.07 L242.17,476.20 L242.50,476.33 L242.83,476.45 L243.16,476.56 L243.49,476.66 L243.82,476.74 L244.15,476.81 L244.48,476.86 L244.81,476.90 L245.14,476.93 L245.47,476.95 L246.13,476.98 L248.44,477.00 L277.48,476.98 L277.81,476.96 L278.14,476.92 L278.47,476.87 L278.80,476.79 L279.13,476.66 L279.46,476.47 L279.79,476.20 L280.12,475.84 L280.45,475.38 L280.78,474.80 L281.11,474.12 L281.44,473.35 L281.77,472.53 L282.10,471.70 L282.43,470.93 L282.76,470.27 L283.09,469.80 L283.42,469.54 L283.75,469.52 L284.08,469.71 L284.41,470.09 L284.74,470.65 L285.07,471.33 L285.40,472.08 L285.73,472.86 L286.06,473.60 L286.39,474.28 L286.72,474.86 L287.05,475.33 L287.38,475.69 L287.71,475.94 L288.04,476.09 L288.37,476.14 L288.70,476.10 L289.03,475.98 L289.36,475.78 L289.69,475.50 L290.02,475.15 L290.35,474.74 L290.68,474.30 L291.01,473.84 L291.34,473.40 L291.67,473.01 L292.00,472.70 L292.33,472.50 L292.66,472.43 L292.99,472.49 L293.32,472.67 L293.65,472.98 L293.98,473.37 L294.31,473.82 L294.64,474.29 L294.97,474.76 L295.30,475.21 L295.63,475.60 L295.96,475.94 L296.29,476.22 L296.62,476.44 L296.95,476.61 L297.28,476.74 L297.61,476.83 L297.94,476.89 L298.27,476.93 L298.60,476.95 L299.92,476.96 L300.25,476.94 L300.58,476.90 L300.91,476.85 L301.24,476.77 L301.57,476.66 L301.90,476.51 L302.23,476.30 L302.56,476.04 L302.89,475.71 L303.22,475.33 L303.55,474.90 L303.88,474.44 L304.21,473.97 L304.54,473.52 L304.87,473.11 L305.20,472.79 L305.53,472.58 L305.86,472.50 L306.19,472.55 L306.52,472.73 L306.85,473.03 L307.18,473.41 L307.51,473.85 L307.84,474.32 L308.17,474.78 L308.50,475.21 L308.83,475.58 L309.16,475.89 L309.49,476.12 L309.82,476.27 L310.15,476.35 L310.48,476.34 L310.81,476.27 L311.14,476.13 L311.47,475.93 L311.80,475.70 L312.13,475.44 L312.46,475.17 L312.79,474.93 L313.12,474.72 L313.45,474.58 L313.78,474.50 L314.11,474.52 L314.44,474.61 L314.77,474.77 L315.10,475.00 L315.43,475.25 L315.76,475.52 L316.09,475.79 L316.42,476.02 L316.75,476.21 L317.08,476.35 L317.41,476.41 L317.74,476.39 L318.07,476.28 L318.40,476.04 L318.73,475.68 L319.06,475.17 L319.39,474.51 L319.72,473.69 L320.05,472.73 L320.38,471.67 L320.71,470.56 L321.04,469.48 L321.37,468.51 L321.70,467.73 L322.03,467.21 L322.36,467.00 L322.69,467.12 L323.02,467.52 L323.35,468.19 L323.68,469.07 L324.01,470.08 L324.34,471.15 L324.67,472.20 L325.00,473.18 L325.33,474.04 L325.66,474.77 L325.99,475.36 L326.32,475.81 L326.65,476.15 L326.98,476.39 L327.31,476.57 L327.64,476.68 L327.97,476.76 L328.30,476.81 L328.63,476.85 L328.96,476.87 L329.62,476.91 L330.28,476.93 L331.27,476.95 L332.92,476.93 L333.25,476.88 L333.58,476.77 L333.91,476.52 L334.24,476.04 L334.57,475.13 L334.90,473.53 L335.23,470.88 L335.56,466.73 L335.89,460.63 L336.22,452.21 L336.55,441.35 L336.88,428.32 L337.21,413.88 L337.54,399.30 L337.87,386.16 L338.20,376.17 L338.53,370.73 L338.86,370.61 L339.19,375.65 L339.52,385.11 L339.85,397.71 L340.18,411.85 L340.51,425.99 L340.84,438.87 L341.17,449.71 L341.50,458.21 L341.83,464.44 L342.16,468.76 L342.49,471.58 L342.82,473.34 L343.15,474.40 L343.48,475.02 L343.81,475.39 L344.14,475.62 L344.47,475.78 L344.80,475.90 L345.13,475.99 L345.46,476.07 L345.79,476.15 L346.12,476.22 L346.45,476.28 L346.78,476.34 L347.11,476.39 L347.44,476.44 L347.77,476.48 L348.10,476.52 L348.43,476.56 L348.76,476.60 L349.09,476.63 L349.42,476.66 L349.75,476.68 L350.08,476.71 L350.41,476.73 L350.74,476.75 L351.40,476.79 L352.06,476.82 L352.72,476.85 L353.38,476.87 L354.37,476.90 L355.36,476.92 L356.68,476.94 L358.66,476.97 L362.29,476.99 L385.39,476.96 L385.72,476.94 L386.05,476.92 L386.38,476.89 L386.71,476.85 L387.04,476.80 L387.37,476.74 L387.70,476.68 L388.03,476.60 L388.36,476.51 L388.69,476.42 L389.02,476.33 L389.35,476.25 L389.68,476.16 L390.01,476.10 L390.34,476.04 L390.67,476.01 L391.33,476.01 L391.66,476.04 L391.99,476.10 L392.32,476.16 L392.65,476.25 L392.98,476.33 L393.31,476.42 L393.64,476.51 L393.97,476.60 L394.30,476.68 L394.63,476.74 L394.96,476.80 L395.29,476.85 L395.62,476.89 L395.95,476.92 L396.28,476.94 L396.94,476.97 L398.26,477.00 L402.88,476.97 L403.21,476.94 L403.54,476.89 L403.87,476.80 L404.20,476.65 L404.53,476.43 L404.86,476.10 L405.19,475.64 L405.52,475.00 L405.85,474.18 L406.18,473.17 L406.51,471.98 L406.84,470.68 L407.17,469.33 L407.50,468.04 L407.83,466.91 L408.16,466.07 L408.49,465.59 L408.82,465.53 L409.15,465.86 L409.48,466.56 L409.81,467.55 L410.14,468.74 L410.47,470.03 L410.80,471.31 L411.13,472.50 L411.46,473.52 L411.79,474.35 L412.12,474.97 L412.45,475.39 L412.78,475.61 L413.11,475.66 L413.44,475.57 L413.77,475.35 L414.10,475.03 L414.43,474.64 L414.76,474.22 L415.09,473.78 L415.42,473.38 L415.75,473.05 L416.08,472.83 L416.41,472.73 L416.74,472.77 L417.07,472.94 L417.40,473.24 L417.73,473.63 L418.06,474.07 L418.39,474.54 L418.72,475.00 L419.05,475.43 L419.38,475.80 L419.71,476.12 L420.04,476.37 L420.37,476.56 L420.70,476.70 L421.03,476.79 L421.36,476.85 L421.69,476.88 L422.02,476.88 L422.35,476.84 L422.68,476.77 L423.01,476.65 L423.34,476.48 L423.67,476.23 L424.00,475.90 L424.33,475.48 L424.66,474.95 L424.99,474.34 L425.32,473.66 L425.65,472.94 L425.98,472.24 L426.31,471.59 L426.64,471.05 L426.97,470.68 L427.30,470.51 L427.63,470.55 L427.96,470.81 L428.29,471.25 L428.62,471.83 L428.95,472.51 L429.28,473.23 L429.61,473.94 L429.94,474.60 L430.27,475.18 L430.60,475.66 L430.93,476.05 L431.26,476.35 L431.59,476.57 L431.92,476.72 L432.25,476.83 L432.58,476.90 L432.91,476.94 L433.24,476.97 L433.90,476.99 L439.84,476.97 L440.17,476.95 L440.50,476.93 L440.83,476.90 L441.16,476.87 L441.49,476.83 L441.82,476.77 L442.15,476.71 L442.48,476.63 L442.81,476.55 L443.14,476.46 L443.47,476.37 L443.80,476.28 L444.13,476.20 L444.46,476.13 L444.79,476.07 L445.12,476.02 L445.45,476.00 L445.78,476.00 L446.11,476.03 L446.44,476.07 L446.77,476.13 L447.10,476.21 L447.43,476.29 L447.76,476.38 L448.09,476.47 L448.42,476.56 L448.75,476.64 L449.08,476.71 L449.41,476.78 L449.74,476.83 L450.07,476.87 L450.40,476.91 L450.73,476.93 L451.39,476.97 L452.38,476.99 L458.32,476.96 L458.65,476.94 L458.98,476.92 L459.31,476.89 L459.64,476.85 L459.97,476.80 L460.30,476.74 L460.63,476.67 L460.96,476.59 L461.29,476.51 L461.62,476.42 L461.95,476.32 L462.28,476.24 L462.61,476.16 L462.94,476.09 L463.27,476.04 L463.60,476.01 L464.26,476.01 L464.59,476.05 L464.92,476.10 L465.25,476.17 L465.58,476.25 L465.91,476.34 L466.24,476.43 L466.57,476.52 L466.90,476.61 L467.23,476.68 L467.56,476.75 L467.89,476.81 L468.22,476.85 L468.55,476.89 L468.88,476.92 L469.21,476.95 L469.87,476.97 L471.19,477.00 L477.46,476.97 L478.12,476.94 L478.45,476.91 L478.78,476.88 L479.11,476.84 L479.44,476.79 L479.77,476.72 L480.10,476.65 L480.43,476.57 L480.76,476.49 L481.09,476.40 L481.42,476.31 L481.75,476.22 L482.08,476.14 L482.41,476.08 L482.74,476.03 L483.07,476.01 L483.73,476.02 L484.06,476.06 L484.39,476.12 L484.72,476.19 L485.05,476.27 L485.38,476.36 L485.71,476.45 L486.04,476.54 L486.37,476.62 L486.70,476.70 L487.03,476.76 L487.36,476.82 L487.69,476.86 L488.02,476.90 L488.35,476.93 L488.68,476.95 L489.34,476.98 L490.99,477.00 L496.93,476.98 L497.26,476.94 L497.59,476.86 L497.92,476.70 L498.25,476.37 L498.58,475.75 L498.91,474.65 L499.24,472.78 L499.57,469.81 L499.90,465.36 L500.23,459.12 L500.56,450.92 L500.89,440.88 L501.22,429.50 L501.55,417.69 L501.88,406.68 L502.21,397.83 L502.54,392.37 L502.87,391.09 L503.20,394.05 L503.53,400.77 L503.86,410.33 L504.19,421.50 L504.52,432.97 L504.85,443.68 L505.18,452.88 L505.51,460.23 L505.84,465.72 L506.17,469.57 L506.50,472.13 L506.83,473.75 L507.16,474.73 L507.49,475.30 L507.82,475.65 L508.15,475.86 L508.48,475.99 L508.81,476.09 L509.14,476.17 L509.47,476.24 L509.80,476.30 L510.13,476.36 L510.46,476.41 L510.79,476.46 L511.12,476.50 L511.45,476.54 L511.78,476.58 L512.11,476.61 L512.44,476.64 L512.77,476.67 L513.10,476.70 L513.43,476.72 L513.76,476.74 L514.09,476.76 L514.75,476.80 L515.41,476.83 L516.07,476.86 L516.73,476.88 L517.72,476.90 L518.71,476.93 L520.03,476.95 L524.32,476.91 L524.65,476.89 L524.98,476.85 L525.31,476.81 L525.64,476.75 L525.97,476.69 L526.30,476.62 L526.63,476.54 L526.96,476.45 L527.29,476.36 L527.62,476.27 L527.95,476.19 L528.28,476.11 L528.61,476.06 L528.94,476.02 L529.60,476.00 L529.93,476.02 L530.26,476.07 L530.59,476.13 L530.92,476.21 L531.25,476.29 L531.58,476.38 L531.91,476.48 L532.24,476.56 L532.57,476.64 L532.90,476.72 L533.23,476.78 L533.56,476.83 L533.89,476.87 L534.22,476.91 L534.55,476.93 L535.21,476.97 L536.20,476.99 L549.07,476.97 L549.40,476.95 L549.73,476.93 L550.06,476.90 L550.39,476.87 L550.72,476.82 L551.05,476.76 L551.38,476.69 L551.71,476.61 L552.04,476.51 L552.37,476.41 L552.70,476.31 L553.03,476.20 L553.36,476.09 L553.69,475.99 L554.02,475.91 L554.35,475.85 L554.68,475.81 L555.34,475.81 L555.67,475.85 L556.00,475.92 L556.33,476.00 L556.66,476.10 L556.99,476.20 L557.32,476.31 L557.65,476.42 L557.98,476.52 L558.31,476.61 L558.64,476.69 L558.97,476.76 L559.30,476.82 L559.63,476.87 L559.96,476.91 L560.29,476.93 L560.62,476.95 L561.28,476.98 L563.92,477.00 L582.07,476.98 L582.40,476.96 L582.73,476.94 L583.06,476.91 L583.39,476.86 L583.72,476.80 L584.05,476.72 L584.38,476.61 L584.71,476.48 L585.04,476.33 L585.37,476.16 L585.70,475.97 L586.03,475.77 L586.36,475.57 L586.69,475.39 L587.02,475.23 L587.35,475.10 L587.68,475.03 L588.01,475.00 L588.34,475.03 L588.67,475.11 L589.00,475.24 L589.33,475.40 L589.66,475.58 L589.99,475.78 L590.32,475.98 L590.65,476.17 L590.98,476.34 L591.31,476.49 L591.64,476.62 L591.97,476.72 L592.30,476.80 L592.63,476.86 L592.96,476.91 L593.29,476.94 L593.62,476.96 L594.28,476.99 L596.92,476.98 L597.25,476.95 L597.58,476.87 L597.91,476.67 L598.24,476.22 L598.57,475.27 L598.90,473.39 L599.23,469.89 L599.56,463.84 L599.89,454.03 L600.22,439.24 L600.55,418.53 L600.88,391.71 L601.21,359.80 L601.54,325.30 L601.87,292.03 L602.20,264.55 L602.53,247.14 L602.86,242.70 L603.19,250.92 L603.52,270.05 L603.85,297.24 L604.18,328.60 L604.51,360.19 L604.84,388.84 L605.17,412.61 L605.50,430.84 L605.83,443.88 L606.16,452.65 L606.49,458.27 L606.82,461.76 L607.15,463.93 L607.48,465.33 L607.81,466.31 L608.14,467.06 L608.47,467.69 L608.80,468.25 L609.13,468.77 L609.46,469.25 L609.79,469.70 L610.12,470.13 L610.45,470.53 L610.78,470.91 L611.11,471.26 L611.44,471.60 L611.77,471.91 L612.10,472.21 L612.43,472.49 L612.76,472.75 L613.09,473.00 L613.42,473.23 L613.75,473.45 L614.08,473.66 L614.41,473.85 L614.74,474.03 L615.07,474.21 L615.40,474.37 L615.73,474.52 L616.06,474.67 L616.39,474.80 L616.72,474.93 L617.05,475.05 L617.38,475.16 L617.71,475.27 L618.04,475.37 L618.37,475.47 L618.70,475.56 L619.03,475.64 L619.36,475.72 L619.69,475.79 L620.02,475.86 L620.35,475.92 L620.68,475.96 L621.01,475.98 L621.34,475.95 L621.67,475.84 L622.00,475.60 L622.33,475.14 L622.66,474.36 L622.99,473.15 L623.32,471.39 L623.65,469.02 L623.98,466.03 L624.31,462.54 L624.64,458.80 L624.97,455.17 L625.30,452.09 L625.63,449.97 L625.96,449.12 L626.29,449.59 L626.62,451.21 L626.95,453.78 L627.28,457.00 L627.61,460.48 L627.94,463.89 L628.27,466.94 L628.60,469.47 L628.93,471.45 L629.26,472.91 L629.59,473.93 L629.92,474.62 L630.25,475.07 L630.58,475.38 L630.91,475.58 L631.24,475.73 L631.57,475.85 L631.90,475.95 L632.23,476.03 L632.56,476.11 L632.89,476.18 L633.22,476.24 L633.55,476.30 L633.88,476.35 L634.21,476.40 L634.54,476.45 L634.87,476.49 L635.20,476.53 L635.53,476.56 L635.86,476.60 L636.19,476.63 L636.52,476.66 L636.85,476.68 L637.18,476.71 L637.51,476.73 L637.84,476.75 L638.50,476.78 L639.16,476.82 L639.82,476.84 L640.48,476.87 L641.47,476.89 L642.46,476.92 L643.78,476.94 L645.76,476.96 L649.06,476.98 L651.70,476.96 L652.03,476.94 L652.36,476.91 L652.69,476.86 L653.02,476.80 L653.35,476.72 L653.68,476.61 L654.01,476.47 L654.34,476.31 L654.67,476.11 L655.00,475.88 L655.33,475.63 L655.66,475.37 L655.99,475.12 L656.32,474.88 L656.65,474.67 L656.98,474.52 L657.31,474.42 L657.64,474.40 L657.97,474.44 L658.30,474.55 L658.63,474.72 L658.96,474.93 L659.29,475.17 L659.62,475.42 L659.95,475.67 L660.28,475.89 L660.61,476.07 L660.94,476.20 L661.27,476.26 L661.60,476.24 L661.93,476.12 L662.26,475.88 L662.59,475.53 L662.92,475.05 L663.25,474.45 L663.58,473.76 L663.91,473.02 L664.24,472.27 L664.57,471.58 L664.90,471.02 L665.23,470.65 L665.56,470.50 L665.89,470.59 L666.22,470.92 L666.55,471.44 L666.88,472.10 L667.21,472.85 L667.54,473.60 L667.87,474.32 L668.20,474.95 L668.53,475.45 L668.86,475.80 L669.19,475.96 L669.52,475.90 L669.85,475.54 L670.18,474.79 L670.51,473.56 L670.84,471.74 L671.17,469.27 L671.50,466.17 L671.83,462.57 L672.16,458.73 L672.49,455.03 L672.82,451.91 L673.15,449.80 L673.48,449.00 L673.81,449.58 L674.14,451.41 L674.47,454.26 L674.80,457.75 L675.13,461.46 L675.46,465.01 L675.79,468.12 L676.12,470.64 L676.45,472.52 L676.78,473.83 L677.11,474.66 L677.44,475.12 L677.77,475.32 L678.10,475.36 L678.43,475.30 L678.76,475.20 L679.09,475.09 L679.42,475.01 L679.75,474.97 L680.08,474.98 L680.41,475.05 L680.74,475.17 L681.07,475.33 L681.40,475.53 L681.73,475.74 L682.06,475.95 L682.39,476.15 L682.72,476.33 L683.05,476.49 L683.38,476.62 L683.71,476.72 L684.04,476.80 L684.37,476.85 L684.70,476.89 L685.03,476.92 L685.69,476.95 L687.34,476.94 L687.67,476.92 L688.00,476.89 L688.33,476.84 L688.66,476.77 L688.99,476.67 L689.32,476.53 L689.65,476.36 L689.98,476.14 L690.31,475.89 L690.64,475.61 L690.97,475.30 L691.30,474.98 L691.63,474.68 L691.96,474.41 L692.29,474.20 L692.62,474.06 L692.95,474.00 L693.28,474.03 L693.61,474.15 L693.94,474.34 L694.27,474.60 L694.60,474.89 L694.93,475.20 L695.26,475.51 L695.59,475.80 L695.92,476.05 L696.25,476.26 L696.58,476.41 L696.91,476.51 L697.24,476.56 L697.57,476.56 L697.90,476.51 L698.23,476.41 L698.56,476.28 L698.89,476.12 L699.22,475.96 L699.55,475.80 L699.88,475.66 L700.21,475.56 L700.54,475.51 L700.87,475.51 L701.20,475.56 L701.53,475.67 L701.86,475.81 L702.19,475.98 L702.52,476.15 L702.85,476.33 L703.18,476.48 L703.51,476.62 L703.84,476.73 L704.17,476.81 L704.50,476.88 L704.83,476.92 L705.16,476.95 L705.82,476.98 L706.81,476.96 L707.14,476.93 L707.47,476.87 L707.80,476.75 L708.13,476.55 L708.46,476.24 L708.79,475.76 L709.12,475.06 L709.45,474.10 L709.78,472.86 L710.11,471.36 L710.44,469.65 L710.77,467.85 L711.10,466.12 L711.43,464.63 L711.76,463.55 L712.09,463.04 L712.42,463.13 L712.75,463.79 L713.08,464.95 L713.41,466.47 L713.74,468.19 L714.07,469.93 L714.40,471.55 L714.73,472.96 L715.06,474.11 L715.39,475.00 L715.72,475.64 L716.05,476.09 L716.38,476.39 L716.71,476.58 L717.04,476.69 L717.37,476.77 L717.70,476.81 L718.03,476.84 L718.36,476.87 L719.02,476.90 L719.68,476.92 L720.67,476.94 L721.99,476.96 L724.30,476.98 L760.93,476.96 L761.26,476.93 L761.59,476.89 L761.92,476.83 L762.25,476.76 L762.58,476.67 L762.91,476.55 L763.24,476.41 L763.57,476.26 L763.90,476.09 L764.23,475.92 L764.56,475.77 L764.89,475.63 L765.22,475.53 L765.55,475.45 L765.88,475.38 L766.21,475.29 L766.54,475.11 L766.87,474.74 L767.20,474.06 L767.53,472.88 L767.86,471.02 L768.19,468.31 L768.52,464.65 L768.85,460.08 L769.18,454.80 L769.51,449.24 L769.84,443.96 L770.17,439.62 L770.50,436.83 L770.83,435.98 L771.16,437.17 L771.49,440.18 L771.82,444.62 L772.15,449.91 L772.48,455.42 L772.81,460.62 L773.14,465.13 L773.47,468.76 L773.80,471.50 L774.13,473.44 L774.46,474.73 L774.79,475.55 L775.12,476.04 L775.45,476.34 L775.78,476.51 L776.11,476.61 L776.44,476.67 L776.77,476.72 L777.10,476.75 L777.43,476.78 L777.76,476.80 L778.42,476.82 L778.75,476.81 L779.08,476.77 L779.41,476.66 L779.74,476.43 L780.07,475.98 L780.40,475.19 L780.73,473.87 L781.06,471.81 L781.39,468.76 L781.72,464.56 L782.05,459.13 L782.38,452.62 L782.71,445.41 L783.04,438.12 L783.37,431.55 L783.70,426.56 L784.03,423.84 L784.36,423.79 L784.69,426.34 L785.02,431.13 L785.35,437.50 L785.68,444.65 L786.01,451.78 L786.34,458.27 L786.67,463.73 L787.00,468.00 L787.33,471.13 L787.66,473.28 L787.99,474.68 L788.32,475.55 L788.65,476.06 L788.98,476.36 L789.31,476.52 L789.64,476.62 L789.97,476.68 L790.30,476.73 L790.63,476.76 L790.96,476.79" fill="none" stroke="#d63b3b" stroke-width="2.3" stroke-linejoin="round" opacity="0.93"/><line x1="134.3" y1="248" x2="168" y2="248" stroke="#4a4a4a" stroke-width="2"/><line x1="134.3" y1="266.3" x2="168" y2="266.3" stroke="#d83c3c" stroke-width="2"/><text x="172.5" y="252.8" font-size="15">WT</text><text x="172.5" y="271.3" font-size="15" font-style="italic">LcERL19</text><text transform="translate(43.5,451.2) rotate(-90)" font-size="19.2"><tspan x="0">Abundance</tspan><tspan x="99" font-weight="normal">(</tspan><tspan x="110" font-weight="normal">×</tspan><tspan x="131.8" dy="-1" font-size="17.6">1000,000</tspan><tspan x="198.4" dy="1" font-weight="normal">)</tspan></text><text x="82.6" y="442.6" font-size="14.8">Limonene</text><line x1="96.5" y1="447.5" x2="96.5" y2="459.5" stroke="#000" stroke-width="1.6"/><path d="M92.5,456.0 L100.5,456.0 L96.5,465.5 Z" fill="#000"/><text x="282" y="441.5" font-size="14.6">Linalool</text><line x1="322.4" y1="444.6" x2="322.4" y2="457.3" stroke="#000" stroke-width="1.6"/><path d="M318.4,453.8 L326.4,453.8 L322.4,463.3 Z" fill="#000"/><text x="692.5" y="436.8" font-size="14.3">Neral</text><line x1="712.2" y1="441.6" x2="712.2" y2="454" stroke="#000" stroke-width="1.6"/><path d="M708.2,450.5 L716.2,450.5 L712.2,460 Z" fill="#000"/><text x="739.3" y="397.9" font-size="14.7">Geranial</text><line x1="784.2" y1="401.2" x2="784.2" y2="414.1" stroke="#000" stroke-width="1.6"/><path d="M780.2,410.6 L788.2,410.6 L784.2,420.1 Z" fill="#000"/>
</g>
</svg>
</body></html>
